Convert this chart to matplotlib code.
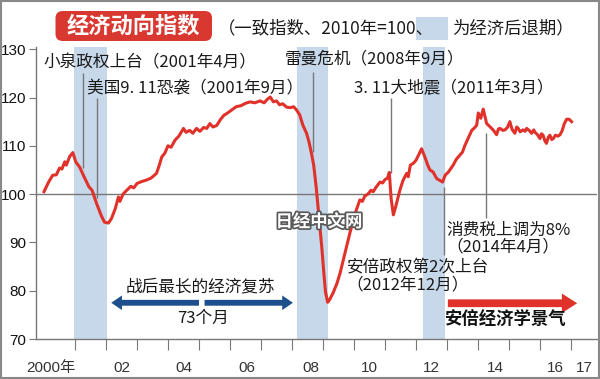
import matplotlib
matplotlib.use('Agg')
import matplotlib.pyplot as plt
from matplotlib import font_manager
from matplotlib.patches import FancyBboxPatch, Rectangle, FancyArrowPatch
import matplotlib.patheffects as pe

CJK = 'Noto Sans CJK SC'
_names = {f.name for f in font_manager.fontManager.ttflist}
LAT = 'Liberation Sans' if 'Liberation Sans' in _names else 'DejaVu Sans'
plt.rcParams['font.family'] = [CJK, 'DejaVu Sans']

# ---------------- data ----------------
dates = [2000.00, 2000.15, 2000.28, 2000.40, 2000.50, 2000.58, 2000.67, 2000.72, 2000.83, 2000.93,
         2001.03, 2001.15, 2001.30, 2001.45, 2001.55, 2001.70, 2001.85, 2001.95, 2002.08, 2002.18,
         2002.30, 2002.40, 2002.45, 2002.55, 2002.67, 2002.80, 2002.90, 2003.00, 2003.15, 2003.30,
         2003.45, 2003.63, 2003.72, 2003.80, 2003.90, 2004.00, 2004.10, 2004.23, 2004.35, 2004.50,
         2004.58, 2004.70, 2004.80, 2004.92, 2005.03, 2005.15, 2005.25, 2005.35, 2005.45, 2005.57,
         2005.70, 2005.80, 2005.90, 2006.05, 2006.20, 2006.35, 2006.50, 2006.65, 2006.80, 2006.97,
         2007.10, 2007.20, 2007.30, 2007.40, 2007.50, 2007.60, 2007.70, 2007.83, 2007.95, 2008.05,
         2008.15, 2008.25, 2008.35, 2008.47, 2008.55, 2008.63, 2008.70, 2008.78, 2008.85, 2008.92,
         2008.96, 2009.03, 2009.08, 2009.15, 2009.22, 2009.33, 2009.45, 2009.55, 2009.66, 2009.76,
         2009.87, 2009.98, 2010.08, 2010.19, 2010.27, 2010.35, 2010.45, 2010.55, 2010.62, 2010.72,
         2010.84, 2010.92, 2011.00, 2011.08, 2011.14, 2011.20, 2011.27, 2011.35, 2011.48, 2011.58,
         2011.70, 2011.75, 2011.82, 2011.92, 2012.00, 2012.10, 2012.18, 2012.28, 2012.38, 2012.45,
         2012.55, 2012.67, 2012.75, 2012.86, 2012.94, 2013.05, 2013.20, 2013.30, 2013.42, 2013.50,
         2013.58, 2013.68, 2013.80, 2013.90, 2013.96, 2014.01, 2014.09, 2014.17, 2014.23, 2014.28,
         2014.38, 2014.50, 2014.60, 2014.66, 2014.71, 2014.80, 2014.87, 2014.95, 2015.03, 2015.10,
         2015.19, 2015.25, 2015.30, 2015.36, 2015.45, 2015.52, 2015.57, 2015.65, 2015.73, 2015.80,
         2015.84, 2015.92, 2016.00, 2016.05, 2016.10, 2016.16, 2016.21, 2016.27, 2016.32, 2016.38,
         2016.43, 2016.50, 2016.58, 2016.65, 2016.72, 2016.78, 2016.86, 2016.94, 2017.02]
values = [100.5, 102.5, 103.9, 104.0, 105.4, 105.2, 106.7, 106.0, 107.8, 108.6,
          106.6, 105.6, 103.5, 101.5, 100.8, 98.0, 95.5, 94.2, 94.0, 95.0,
          97.0, 99.4, 98.5, 100.0, 100.8, 101.6, 101.3, 102.2, 102.6, 102.9,
          103.3, 104.3, 106.0, 107.7, 108.5, 110.0, 109.7, 111.2, 112.0, 113.6,
          112.8, 113.2, 112.6, 113.6, 113.0, 113.8, 113.6, 114.6, 113.9, 114.2,
          115.5, 116.3, 116.7, 117.4, 118.1, 118.3, 118.8, 119.1, 118.9, 119.3,
          118.9, 119.6, 120.1, 119.1, 119.3, 118.5, 118.7, 118.0, 117.9, 118.1,
          117.4, 116.4, 114.3, 112.6, 110.8, 108.4, 106.0, 101.5, 96.7, 92.0,
          89.1, 83.5, 79.8, 77.6, 78.2, 79.6, 81.5, 83.6, 86.5, 89.1,
          92.0, 94.6, 96.8, 98.8, 98.5, 99.6, 100.0, 100.8, 100.5, 101.5,
          102.5, 102.3, 103.0, 103.3, 104.5, 99.0, 95.7, 97.5, 100.8, 102.8,
          104.3, 103.6, 106.0, 106.4, 107.0, 108.3, 109.4, 107.8, 106.0, 105.0,
          104.6, 103.2, 102.9, 102.5, 103.9, 104.6, 106.0, 107.2, 108.1, 108.7,
          110.1, 111.5, 113.2, 113.8, 114.3, 116.8, 115.7, 117.6, 116.0, 114.6,
          114.0, 113.2, 112.3, 113.5, 113.6, 113.2, 113.3, 113.8, 115.0, 113.4,
          112.6, 113.9, 113.6, 112.9, 113.3, 113.0, 113.6, 113.2, 112.6, 113.3,
          112.8, 112.3, 111.5, 112.5, 112.2, 111.0, 110.5, 111.8, 112.2, 111.3,
          111.5, 112.2, 112.0, 112.3, 113.2, 114.5, 115.5, 115.5, 115.0]

recessions = [(2000.97, 2002.03), (2008.15, 2009.15), (2012.24, 2012.94)]

event_labels = ['小泉政权上台（2001年4月）', '美国9. 11恐袭（2001年9月）', '雷曼危机（2008年9月）',
                '3. 11大地震（2011年3月）', '安倍政权第2次上台', '消费税上调为8%']
event_sublabels = ['', '', '', '', '（2012年12月）', '（2014年4月）']
event_dates = [2001.27, 2001.70, 2008.69, 2011.18, 2012.91, 2014.26]
event_line_lo = [105.4, 99.2, 108.7, 104.3, 87.4, 95.0]
event_line_hi = [125.0, 119.9, 125.3, 119.9, 101.4, 112.6]

year_ticks = list(range(2001, 2018))
label_pos = [2000.22, 2002.5, 2004.5, 2006.55, 2008.6, 2010.5, 2012.5, 2014.55, 2016.5, 2017.42]
label_txt = ['2000年', '02', '04', '06', '08', '10', '12', '14', '16', '17']
y_ticks = [70, 80, 90, 100, 110, 120, 130]

# ---------------- style ----------------
W, H = 600, 379
RED = '#e0322b'
BAND = '#c6d8ea'
BLUE = '#1d4f8c'
GRAY = '#777777'

def F(x, y):
    return x / W, 1 - y / H

fig = plt.figure(figsize=(W / 100, H / 100), dpi=100)
ax = fig.add_axes([36 / W, (H - 339) / H, (597 - 36) / W, (339 - 46.8) / H])
ax.set_xlim(1999.742, 2017.84)
ax.set_ylim(70, 130.5)

for a, b in recessions:
    ax.axvspan(a, b, color=BAND, lw=0, zorder=0)

ax.axhline(100, color=GRAY, lw=1, zorder=1)
ax.plot(dates, values, color=RED, lw=2.2, zorder=3, solid_joinstyle='round')
ax.vlines(event_dates, event_line_lo, event_line_hi, colors=GRAY, lw=1, zorder=2)

for s in ['top', 'right']:
    ax.spines[s].set_visible(False)
for s in ['left', 'bottom']:
    ax.spines[s].set_color(GRAY)
    ax.spines[s].set_linewidth(1)

ax.set_yticks(y_ticks)
ax.set_yticklabels([str(v) for v in y_ticks], fontfamily=LAT, fontsize=11, color='#111')
ax.tick_params(axis='y', direction='out', length=5, color=GRAY, pad=2)
ax.set_xticks(year_ticks)
ax.set_xticklabels([])
ax.tick_params(axis='x', which='major', direction='out', length=8, color=GRAY)
ax.set_xticks(label_pos, minor=True)
ax.set_xticklabels(label_txt, minor=True, fontfamily=[LAT, CJK], fontsize=11, color='#333')
ax.tick_params(axis='x', which='minor', length=0, pad=16)

# event annotations
text_px = [(43, 63), (86.7, 89), (285, 59), (354, 89), (346.7, 268), (446.7, 230)]
sub_px = [None, None, None, None, (346.7, 285), (446.7, 247)]
for lab, sub, p, sp in zip(event_labels, event_sublabels, text_px, sub_px):
    fig.text(*F(*p), lab, ha='left', va='center', fontsize=12, color='#1a1a1a')
    if sub:
        fig.text(*F(*sp), sub, ha='left', va='center', fontsize=12, color='#1a1a1a')

# blue double arrow (postwar longest expansion)
ya = 77.5
xm = (recessions[0][1] + recessions[1][0]) / 2
for end in (recessions[0][1] + 0.05, recessions[1][0] - 0.03):
    ax.add_patch(FancyArrowPatch((xm, ya), (end, ya), arrowstyle='simple,head_length=0.55,head_width=0.75,tail_width=0.3',
                                 mutation_scale=14, color=BLUE, lw=0, zorder=4))
fig.text(*F(200, 287), '战后最长的经济复苏', ha='center', va='center', fontsize=12, color='#1a1a1a')
fig.text(*F(202.5, 318), '73个月', ha='center', va='center', fontsize=12, color='#1a1a1a')

# red arrow (Abenomics)
ax.add_patch(FancyArrowPatch((recessions[2][1], 77.4), (2017.29, 77.4),
                             arrowstyle='simple,head_length=0.55,head_width=0.7,tail_width=0.28',
                             mutation_scale=20, color=RED, lw=0, zorder=4))
fig.text(*F(445, 320), '安倍经济学景气', ha='left', va='center', fontsize=12.5, weight='bold', color='#111')

# watermark
fig.text(*F(319, 222), '日经中文网', ha='center', va='center', fontsize=12.5, weight='bold', color='white',
         path_effects=[pe.withStroke(linewidth=2.5, foreground='#5a5a5a')], zorder=5)

# title
fig.patches.append(FancyBboxPatch((55.5 / W, 1 - 41 / H), (212 - 55.5) / W, 30 / H,
                                  boxstyle='round,pad=0,rounding_size=0.012', mutation_aspect=W / H,
                                  transform=fig.transFigure, fc='#d8382f', ec='none'))
fig.text(*F(133.7, 26), '经济动向指数', ha='center', va='center', fontsize=16, weight='bold', color='white')
fig.text(*F(218, 28), '（一致指数、2010年=100、', ha='left', va='center', fontsize=12.5, color='#1a1a1a')
fig.patches.append(Rectangle((416 / W, 1 - 40 / H), 32 / W, 23 / H, transform=fig.transFigure,
                             fc=BAND, ec='none'))
fig.text(*F(452, 28), '为经济后退期）', ha='left', va='center', fontsize=12.5, color='#1a1a1a')

# outer frame
fig.patches.append(Rectangle((0.0015, 0.002), 0.997, 0.996, transform=fig.transFigure,
                             fill=False, ec='#888888', lw=1.5))

fig.savefig('out.png', dpi=100)
